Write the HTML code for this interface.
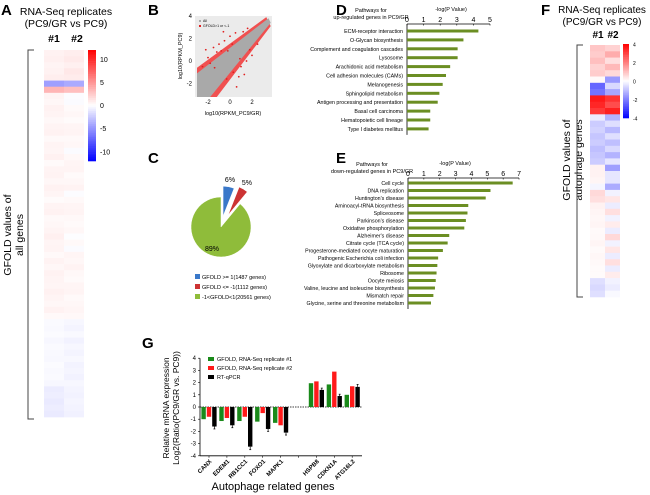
<!DOCTYPE html>
<html><head><meta charset="utf-8"><style>
body{margin:0;background:#fff;}
svg{display:block;font-family:"Liberation Sans",Arial,sans-serif;}
</style></head><body>
<svg id="fig" width="650" height="495" viewBox="0 0 650 495" xmlns="http://www.w3.org/2000/svg">
<g font-weight="bold" font-size="15">
<text x="1" y="15">A</text><text x="148" y="15">B</text><text x="148" y="163">C</text>
<text x="336" y="15">D</text><text x="336" y="163">E</text><text x="541" y="15">F</text><text x="142" y="348">G</text>
</g>
<g font-size="10.5" text-anchor="middle">
<text x="66" y="15">RNA-Seq replicates</text><text x="66" y="27">(PC9/GR vs PC9)</text>
<text x="54" y="42" font-weight="bold">#1</text><text x="77" y="42" font-weight="bold">#2</text>
</g>
<g font-size="10.5" text-anchor="middle">
<text transform="translate(11,235) rotate(-90)">GFOLD values of</text>
<text transform="translate(23,235) rotate(-90)">all genes</text>
</g>
<path d="M34,50 H28 V419 H34" fill="none" stroke="#444" stroke-width="1"/>
<g id="heatA"></g>
<g id="cbarA"></g>

<g font-size="10" text-anchor="middle">
<text x="602" y="13">RNA-Seq replicates</text><text x="602" y="25">(PC9/GR vs PC9)</text>
<text x="598" y="38" font-weight="bold">#1</text><text x="613" y="38" font-weight="bold">#2</text>
</g>
<g font-size="10.5" text-anchor="middle">
<text transform="translate(570,160) rotate(-90)">GFOLD values of</text>
<text transform="translate(582,160) rotate(-90)">autophage genes</text>
</g>
<path d="M583,45 H577 V297 H583" fill="none" stroke="#444" stroke-width="1"/>
<g id="heatF"></g>
<g id="cbarF"></g>

<g id="scatB"></g>
<g id="pieC"></g>
<g id="barD"></g>
<g id="barE"></g>
<g id="barG"></g>
</svg>
<script>
// ---- data ----
const heatA1=[0.6,0.7,0.5,0.6,0.8,-4.5,3.5,0.5,0.4,0.6,0.5,0.35,0.5,0.6,0.3,0.5,0.45,0.65,0.25,0.5,0.55,0.4,0.6,0.45,0.2,0.5,0.6,0.3,0.4,0.5,0.7,0.45,0.5,0.3,0.55,0.4,0.6,0.5,0.45,0.65,0.5,0.4,0.6,0.3,-0.25,-0.3,-0.2,-0.4,-0.25,-0.3,-0.35,-0.2,-0.3,-0.25,-0.4,-0.9,-0.8,-1,-0.85,-1];
const heatA2=[0.8,1,0.7,1.1,0.9,-4,3,-0.15,-0.2,0.25,0.4,0.2,0.45,0.5,0.3,0.4,-0.2,0.35,0.45,0.5,0.25,0.4,0.55,-0.15,0.3,0.45,0.5,0.35,0.25,0.4,-0.1,0.3,-0.2,0.45,0.4,0.55,0.35,0.25,0.45,0.5,0.3,0.4,0.45,0.35,-0.4,-0.5,-0.3,-0.6,-0.4,-0.5,-0.35,-0.55,-0.45,-0.6,-0.4,-0.5,-0.6,-0.45,-0.55,-0.65];
const heatF1=[0.9,0.8,1,0.7,0.8,0.1,-2.4,-2.2,3.6,3.4,3.1,-0.3,-0.8,-0.7,-0.9,-0.8,-1,-0.9,-0.8,0.2,0.2,0.15,-0.15,0.6,0.5,0.2,0.15,0.12,0.15,0.08,0.1,0.15,0.08,0.12,0.1,0.06,0.06,-0.5,-0.6,-0.5];
const heatF2=[0.7,1.3,0.5,1.1,0.6,-1.6,-0.6,-1.4,3.2,2.8,3.5,-1.2,-0.5,-1.1,-0.5,-1,-0.6,-1.2,-0.4,-1.5,-0.4,-0.4,-1.3,-0.2,0.4,-0.3,0.5,-0.2,0.3,-0.3,0.6,-0.2,0.4,-0.3,0.5,-0.3,0.3,-0.2,-0.3,-0.1];
const upPathways=["ECM-receptor interaction","O-Glycan biosynthesis","Complement and coagulation cascades","Lysosome","Arachidonic acid metabolism","Cell adhesion molecules (CAMs)","Melanogenesis","Sphingolipid metabolism","Antigen processing and presentation","Basal cell carcinoma","Hematopoietic cell lineage","Type I diabetes mellitus"];
const upValues=[4.3,3.4,3.05,3.05,2.6,2.35,2.15,1.95,1.85,1.4,1.4,1.3];
const upTicks=[0,1,2,3,4,5];
const downPathways=["Cell cycle","DNA replication","Huntington's disease","Aminoacyl-tRNA biosynthesis","Spliceosome","Parkinson's disease","Oxidative phosphorylation","Alzheimer's disease","Citrate cycle (TCA cycle)","Progesterone-mediated oocyte maturation","Pathogenic Escherichia coli infection","Glyoxylate and dicarboxylate metabolism","Ribosome","Oocyte meiosis","Valine, leucine and isoleucine biosynthesis","Mismatch repair","Glycine, serine and threonine metabolism"];
const downValues=[6.6,5.2,4.9,3.8,3.75,3.65,3.55,2.6,2.5,2.2,1.9,1.85,1.8,1.75,1.7,1.6,1.45];
const downTicks=[0,1,2,3,4,5,6,7];
const pieLabels=["GFOLD >= 1(1487 genes)","GFOLD <= -1(1112 genes)","-1<GFOLD<1(20561 genes)"];
const pieValues=[6,5,89];
const genes=["CANX","EDEM1","RB1CC1","FOXO1","MAPK1","","HSPB8","CDKN1A","ATG16L2"];
const rep1=[-1.0,-1.15,-1.15,-1.2,-1.3,null,1.95,1.85,1.0];
const rep2=[-0.8,-0.9,-0.8,-0.5,-1.5,null,2.1,2.9,1.7];
const qpcr=[-1.6,-1.5,-3.25,-1.8,-2.1,null,1.4,0.9,1.65];
const qpcrErr=[0.2,0.2,0.25,0.2,0.2,null,0.15,0.15,0.2];
const gTicks=[-4,-3,-2,-1,0,1,2,3,4];
const scatRedPts=[[-1.5,1.2],[-1,1.5],[-0.5,1.8],[0,2.2],[0.5,2.5],[-2,0.3],[-1.2,0.8],[1,-0.5],[1.5,0],[2,0.5],[0.3,-1],[-0.3,-1.6],[0.8,-1.4],[-0.8,0.9],[1.2,2.6],[-2.5,-0.5],[0.6,-2.3],[1.8,1.0],[-1.8,-0.2],[0.2,1.5],[-2.2,1.0],[1.3,-1.2],[2.5,1.5],[-0.2,0.9],[0.9,0.2],[-1.4,-0.6],[1.6,2.9],[-0.6,2.6]];

const NS="http://www.w3.org/2000/svg";
function el(tag,attrs,parent){const e=document.createElementNS(NS,tag);for(const k in attrs)e.setAttribute(k,attrs[k]);parent.appendChild(e);return e;}
function col(v,m){let t=Math.max(-1,Math.min(1,v/m));if(t>=0){const c=Math.round(255*(1-t));return `rgb(255,${c},${c})`;}const c=Math.round(255*(1+t));return `rgb(${c},${c},255)`;}

function heat(g,arrs,x0,w,y0,y1,m,name){
  arrs.forEach((a,ci)=>{const h=(y1-y0)/a.length;a.forEach((v,i)=>{
    const r=el('rect',{x:x0+ci*w,y:y0+i*h,width:w,height:h+0.3,fill:col(v,m)},g);
    
    });});
}
heat(document.getElementById('heatA'),[heatA1,heatA2],44,20,50,417,12,'heatmap-a');
heat(document.getElementById('heatF'),[heatF1,heatF2],590,15,45,297,4,'heatmap-f');
function cbar(g,x,y0,y1,w,m,ticks,fs){
  const n=60,h=(y1-y0)/n;
  for(let i=0;i<n;i++){const v=m-(2*m)*(i+0.5)/n;const r=el('rect',{x:x,y:y0+i*h,width:w,height:h+0.3,fill:col(v,m)},g);
    
    }
  ticks.forEach(t=>{const y=y0+(m-t)/(2*m)*(y1-y0);const tx=el('text',{x:x+w+4,y:y+2.5,'font-size':fs},g);tx.textContent=t;
    
    });
}
cbar(document.getElementById('cbarA'),88,50,161,8,12,[10,5,0,-5,-10],7);
cbar(document.getElementById('cbarF'),623,44,118,6,4,[4,2,0,-2,-4],5);

(function(){
  const g=document.getElementById('scatB');
  const X=v=>230+v*11, Y=v=>61-v*11.25;
  el('rect',{x:195,y:16,width:77,height:81,fill:'#ebebeb'},g);
  el('polygon',{points:`${X(-3)},${Y(-0.6)} ${X(-3)},${Y(-3.2)} ${X(-1.2)},${Y(-3.2)} ${X(3.7)},${Y(3.1)} ${X(3.3)},${Y(3.9)}`,fill:'#f05050'},g);
  el('polygon',{points:`${X(-3)},${Y(-1.1)} ${X(-3)},${Y(-3.2)} ${X(-1.8)},${Y(-3.2)} ${X(3.7)},${Y(3.4)} ${X(3.5)},${Y(3.8)}`,fill:'#a9a9a9'},g);
  scatRedPts.forEach(p=>{const c=el('circle',{cx:X(p[0]),cy:Y(p[1]),r:0.9,fill:'#e02020'},g);
    
    });
  [-2,0,2].forEach(t=>{const tx=el('text',{x:X(t),y:104,'font-size':6,'text-anchor':'middle'},g);tx.textContent=t;});
  [4,2,0,-2].forEach(t=>{const tx=el('text',{x:192,y:Y(t)+2,'font-size':6,'text-anchor':'end'},g);tx.textContent=t;});
  const xl=el('text',{x:233,y:115,'font-size':5.5,'text-anchor':'middle'},g);xl.textContent='log10(RPKM_PC9/GR)';
  const yl=el('text',{transform:'translate(182,56) rotate(-90)','font-size':5.5,'text-anchor':'middle'},g);yl.textContent='log10(RPKM_PC9)';
  el('rect',{x:199,y:20,width:2,height:2,fill:'#aaa'},g);el('rect',{x:199,y:25,width:2,height:2,fill:'#e02020'},g);
  const l1=el('text',{x:203,y:22,'font-size':3.5},g);l1.textContent='All';
  const l2=el('text',{x:203,y:27,'font-size':3.5},g);l2.textContent='GFOLD>1 or <-1';
})();

(function(){
  const g=document.getElementById('pieC');
  const cx=221,cy=227,r=30;
  const colors=['#3a78c9','#cc3333','#8fbc3a'],offs=[11,14,0];
  let a0=0;const tot=pieValues.reduce((a,b)=>a+b,0);
  pieValues.forEach((v,i)=>{
    const a1=a0+v/tot*2*Math.PI,mid=(a0+a1)/2;
    const ox=cx+offs[i]*Math.sin(mid),oy=cy-offs[i]*Math.cos(mid);
    const p=`M${ox},${oy} L${ox+r*Math.sin(a0)},${oy-r*Math.cos(a0)} A${r},${r} 0 ${a1-a0>Math.PI?1:0} 1 ${ox+r*Math.sin(a1)},${oy-r*Math.cos(a1)} Z`;
    const s=el('path',{d:p,fill:colors[i],stroke:'#fff','stroke-width':0.5},g);
    
    
    let tx,ty;
    if(i<2){const lr=r+7;tx=ox+lr*Math.sin(mid);ty=oy-lr*Math.cos(mid)+2;}
    else{tx=cx-9;ty=cy+24;}
    const t=el('text',{x:tx,y:ty,'font-size':7,'text-anchor':'middle'},g);
    t.textContent=v+'%';
    const ly=278+i*10;
    const sq=el('rect',{x:195,y:ly-4,width:5,height:5,fill:colors[i]},g);
    
    
    const lt=el('text',{x:202,y:ly+1,'font-size':5.5},g);lt.textContent=pieLabels[i];
    
    
    a0=a1;
  });
})();

function hbar(g,labels,vals,ticks,x0,scale,axisY,firstY,step,t1,t2,titleY,pvX){
  const xmax=ticks[ticks.length-1];
  el('line',{x1:x0,y1:axisY,x2:x0+xmax*scale,y2:axisY,stroke:'#000','stroke-width':0.8},g);
  const lastY=firstY+step*(labels.length-1)+6;
  el('line',{x1:x0,y1:axisY,x2:x0,y2:lastY,stroke:'#000','stroke-width':0.8},g);
  ticks.forEach(t=>{const x=x0+t*scale;el('line',{x1:x,y1:axisY,x2:x,y2:axisY+1.5,stroke:'#000','stroke-width':0.6},g);
    const tx=el('text',{x:x,y:axisY-2,'font-size':7,'text-anchor':'middle'},g);tx.textContent=t;
    
    });
  labels.forEach((lab,i)=>{const y=firstY+i*step;
    const b=el('rect',{x:x0,y:y-1.5,width:vals[i]*scale,height:3,fill:'#6b8e23'},g);
    
    
    const tx=el('text',{x:x0-4,y:y+2,'font-size':5.3,'text-anchor':'end'},g);tx.textContent=lab;
    
    });
  const a=el('text',{x:x0-36,y:titleY,'font-size':5.5,'text-anchor':'middle'},g);a.textContent=t1;
  const b=el('text',{x:x0-36,y:titleY+7,'font-size':5.5,'text-anchor':'middle'},g);b.textContent=t2;
  const p=el('text',{x:pvX,y:titleY-1,'font-size':5.5,'text-anchor':'middle'},g);p.textContent='-log(P Value)';
}
hbar(document.getElementById('barD'),upPathways,upValues,upTicks,407,16.6,24,31,8.9,'Pathways for','up-regulated genes in PC9/GR',12,451);
hbar(document.getElementById('barE'),downPathways,downValues,downTicks,408,15.86,178,183,7.5,'Pathways for','down-regulated genes in PC9/GR',166,455);

(function(){
  const g=document.getElementById('barG');
  const Y=v=>407-v*12.2, X=i=>209+i*17.9, bw=4.4;
  el('line',{x1:200,y1:Y(4),x2:200,y2:Y(-4),stroke:'#000','stroke-width':0.8},g);
  el('line',{x1:200,y1:Y(-4),x2:362,y2:Y(-4),stroke:'#000','stroke-width':0.8},g);
  el('line',{x1:200,y1:Y(0),x2:362,y2:Y(0),stroke:'#000','stroke-width':0.8,'stroke-dasharray':'1.5,1'},g);
  gTicks.forEach(t=>{el('line',{x1:198,y1:Y(t),x2:200,y2:Y(t),stroke:'#000','stroke-width':0.6},g);
    const tx=el('text',{x:196,y:Y(t)+2,'font-size':6,'text-anchor':'end'},g);tx.textContent=t;
    
    });
  const series=[[rep1,'#1a8a1a'],[rep2,'#ff1a1a'],[qpcr,'#000']];
  genes.forEach((gn,i)=>{
    el('line',{x1:X(i),y1:Y(-4),x2:X(i),y2:Y(-4)+2,stroke:'#000','stroke-width':0.6},g);
    if(rep1[i]===null)return;
    series.forEach((s,k)=>{const v=s[0][i];const x=X(i)+(k-1)*5.4-bw/2;
      const r=el('rect',{x:x,y:Math.min(Y(0),Y(v)),width:bw,height:Math.abs(Y(v)-Y(0)),fill:s[1]},g);
      
      
      if(k===2){const e=qpcrErr[i]*Math.sign(v);const ex=x+bw/2;
        el('line',{x1:ex,y1:Y(v),x2:ex,y2:Y(v+e),stroke:'#000','stroke-width':0.7},g);
        el('line',{x1:ex-1,y1:Y(v+e),x2:ex+1,y2:Y(v+e),stroke:'#000','stroke-width':0.7},g);}
    });
    const t=el('text',{transform:`translate(${X(i)+3},${Y(-4)+6}) rotate(-45)`,'font-size':6,'font-weight':'bold','text-anchor':'end'},g);
    t.textContent=gn;
    
    
  });
  const legs=['GFOLD, RNA-Seq replicate #1','GFOLD, RNA-Seq replicate #2','RT-qPCR'];
  legs.forEach((l,k)=>{const y=360+k*9;
    el('rect',{x:208,y:y-3,width:6,height:4,fill:series[k][1]},g);
    const t=el('text',{x:217,y:y+1,'font-size':5.5},g);t.textContent=l;
    
    });
  const a=el('text',{transform:'translate(169,408) rotate(-90)','font-size':8.5,'text-anchor':'middle'},g);a.textContent='Relative mRNA expression';
  const b=el('text',{transform:'translate(179,408) rotate(-90)','font-size':8.5,'text-anchor':'middle'},g);b.textContent='Log2(Ratio(PC9/GR vs. PC9))';
  const xl=el('text',{x:273,y:490,'font-size':11,'text-anchor':'middle'},g);xl.textContent='Autophage related genes';
  
  
})();
</script>
</body></html>
